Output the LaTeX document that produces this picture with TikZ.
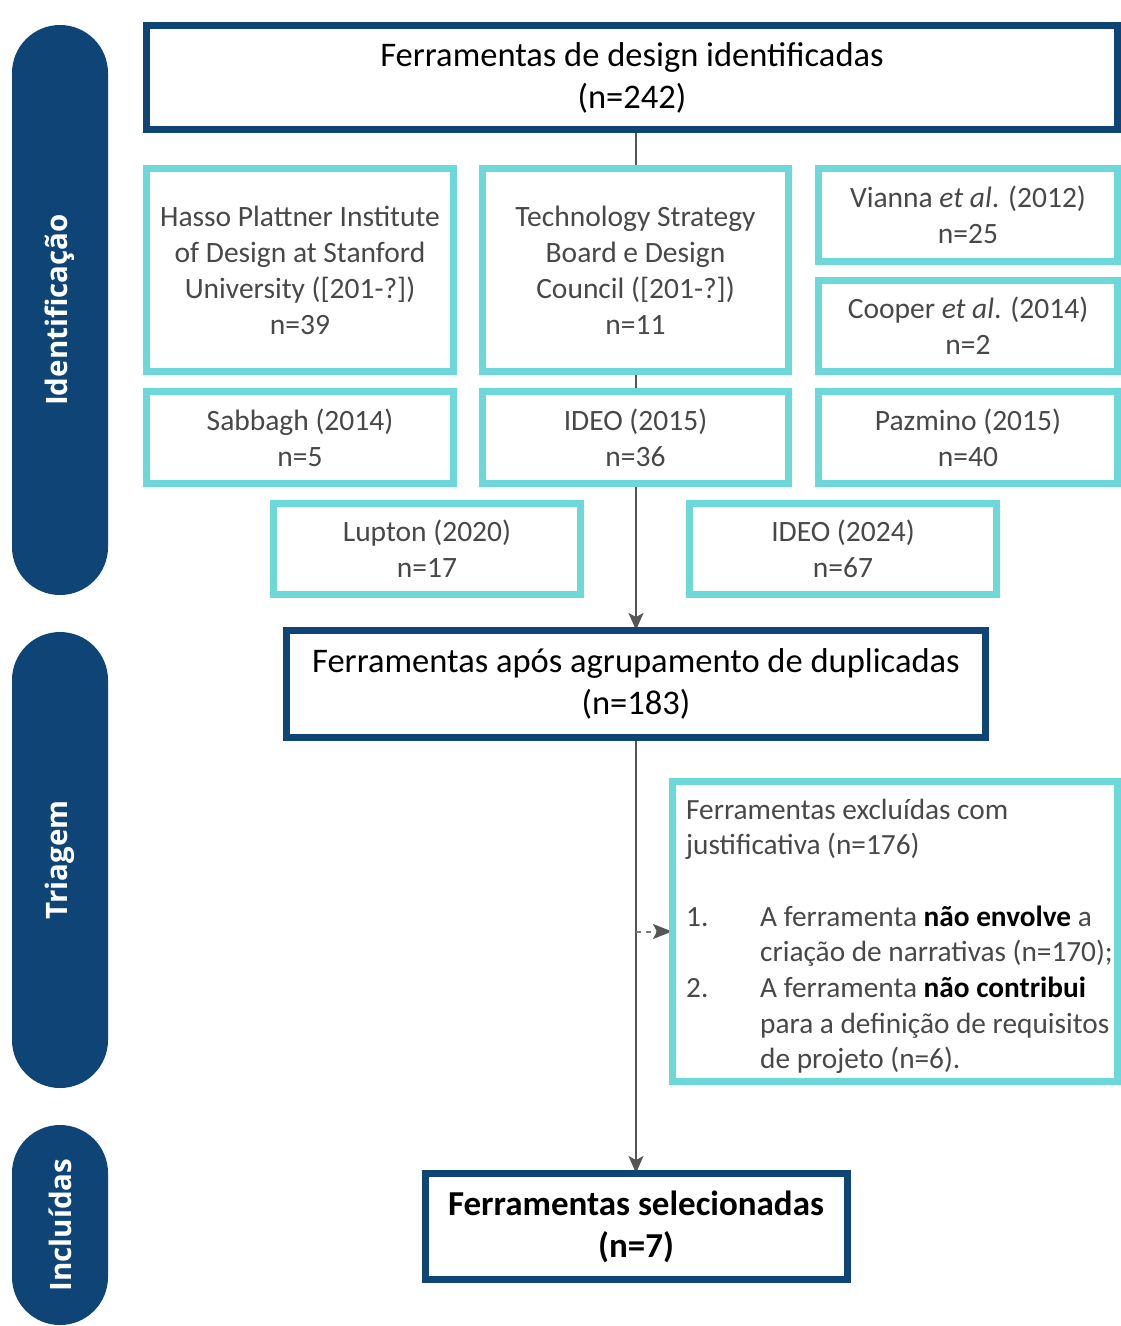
\documentclass[tikz,border=0pt]{standalone}
\usepackage{fontspec}
\setmainfont{Carlito}
\newfontfamily\lanefont{Open Sans}
\usetikzlibrary{arrows.meta,backgrounds}
\definecolor{navy}{RGB}{14,69,118}
\definecolor{aqua}{RGB}{109,216,218}
\definecolor{linegray}{RGB}{85,85,85}
\definecolor{txtgray}{RGB}{72,72,72}
\begin{document}
\begin{tikzpicture}[x=1pt,y=-1pt,
 nbox/.style={draw=navy, line width=7pt, fill=white, align=center, text=black, font=\fontsize{34.5}{42}\selectfont, inner sep=0pt},
 cbox/.style={draw=aqua, line width=7pt, fill=white, align=center, text=txtgray, font=\fontsize{29.5}{36}\selectfont, inner sep=0pt},
 lane/.style={fill=navy, rounded corners=48pt, minimum height=96pt, inner sep=0pt, text=white, font=\lanefont\bfseries\fontsize{29.5}{32}\selectfont, rotate=90},
 conn/.style={draw=linegray, line width=2pt, shorten >=-3pt, -{Stealth[length=17pt,width=15pt,inset=4pt]}},
 dconn/.style={draw=linegray!80, line width=2pt, dash pattern=on 5pt off 5pt, shorten >=-3pt, -{Stealth[length=19pt,width=15pt,inset=4pt,color=linegray]}}]
\useasboundingbox (0,0) rectangle (1121,1326);

% lanes
\node[lane, minimum width=570pt] (l1) at (60,310) {Identificação};
\node[lane, minimum width=456pt] (l2) at (60,860) {Triagem};
\node[lane, minimum width=200pt] (l3) at (60,1225) {Incluídas};

% boxes
\node[nbox, minimum width=971pt, minimum height=104pt] (top) at (632,77.5) {Ferramentas de design identificadas\\(n=242)};

\node[cbox, minimum width=307pt, minimum height=203pt] (hasso) at (300,270) {Hasso Plattner Institute\\of Design at Stanford\\University ([201-?])\\n=39};
\node[cbox, minimum width=306pt, minimum height=203pt] (tech) at (635.5,270) {Technology Strategy\\Board e Design\\Council ([201-?])\\n=11};
\node[cbox, minimum width=299pt, minimum height=93pt] (vianna) at (968,215) {Vianna \textit{et al}. (2012)\\n=25};
\node[cbox, minimum width=299pt, minimum height=91pt] (cooper) at (968,326) {Cooper \textit{et al}. (2014)\\n=2};
\node[cbox, minimum width=307pt, minimum height=92pt] (sabbagh) at (300,437.5) {Sabbagh (2014)\\n=5};
\node[cbox, minimum width=306pt, minimum height=92pt] (ideo15) at (635.5,437.5) {IDEO (2015)\\n=36};
\node[cbox, minimum width=299pt, minimum height=92pt] (pazmino) at (968,437.5) {Pazmino (2015)\\n=40};
\node[cbox, minimum width=307pt, minimum height=91pt] (lupton) at (427,549) {Lupton (2020)\\n=17};
\node[cbox, minimum width=307pt, minimum height=91pt] (ideo24) at (843,549) {IDEO (2024)\\n=67};

\node[nbox, minimum width=699pt, minimum height=107pt] (dup) at (636,684) {Ferramentas após agrupamento de duplicadas\\(n=183)};

\node[cbox, minimum width=445pt, minimum height=300pt] (excl) at (895,931.5) {};
\node[anchor=base west, inner sep=0pt, text=txtgray, font=\fontsize{29.3}{35.7}\selectfont] (excltxt) at (686,819) {\begin{tabular}[t]{@{}p{74pt}@{}l@{}}
\multicolumn{2}{@{}l@{}}{Ferramentas excluídas com}\\
\multicolumn{2}{@{}l@{}}{justificativa (n=176)}\\
 & \\
1. & A ferramenta \textcolor{black}{\textbf{não envolve}} a\\
 & criação de narrativas (n=170);\\
2. & A ferramenta \textcolor{black}{\textbf{não contribui}}\\
 & para a definição de requisitos\\
 & de projeto (n=6).
\end{tabular}};

\node[nbox, minimum width=422pt, minimum height=106pt, font=\bfseries\fontsize{35}{42}\selectfont] (sel) at (636,1226.5) {Ferramentas selecionadas\\(n=7)};

% connectors
\begin{pgfonlayer}{background}
\fill[white] (0,0) rectangle (1121,1326);
\draw[conn] (dup.north |- top.south) -- (dup.north);
\draw[conn] (dup.south) -- (sel.north);
\draw[dconn] (dup.south |- excl.west) -- (excl.west);
\end{pgfonlayer}
\end{tikzpicture}
\end{document}
